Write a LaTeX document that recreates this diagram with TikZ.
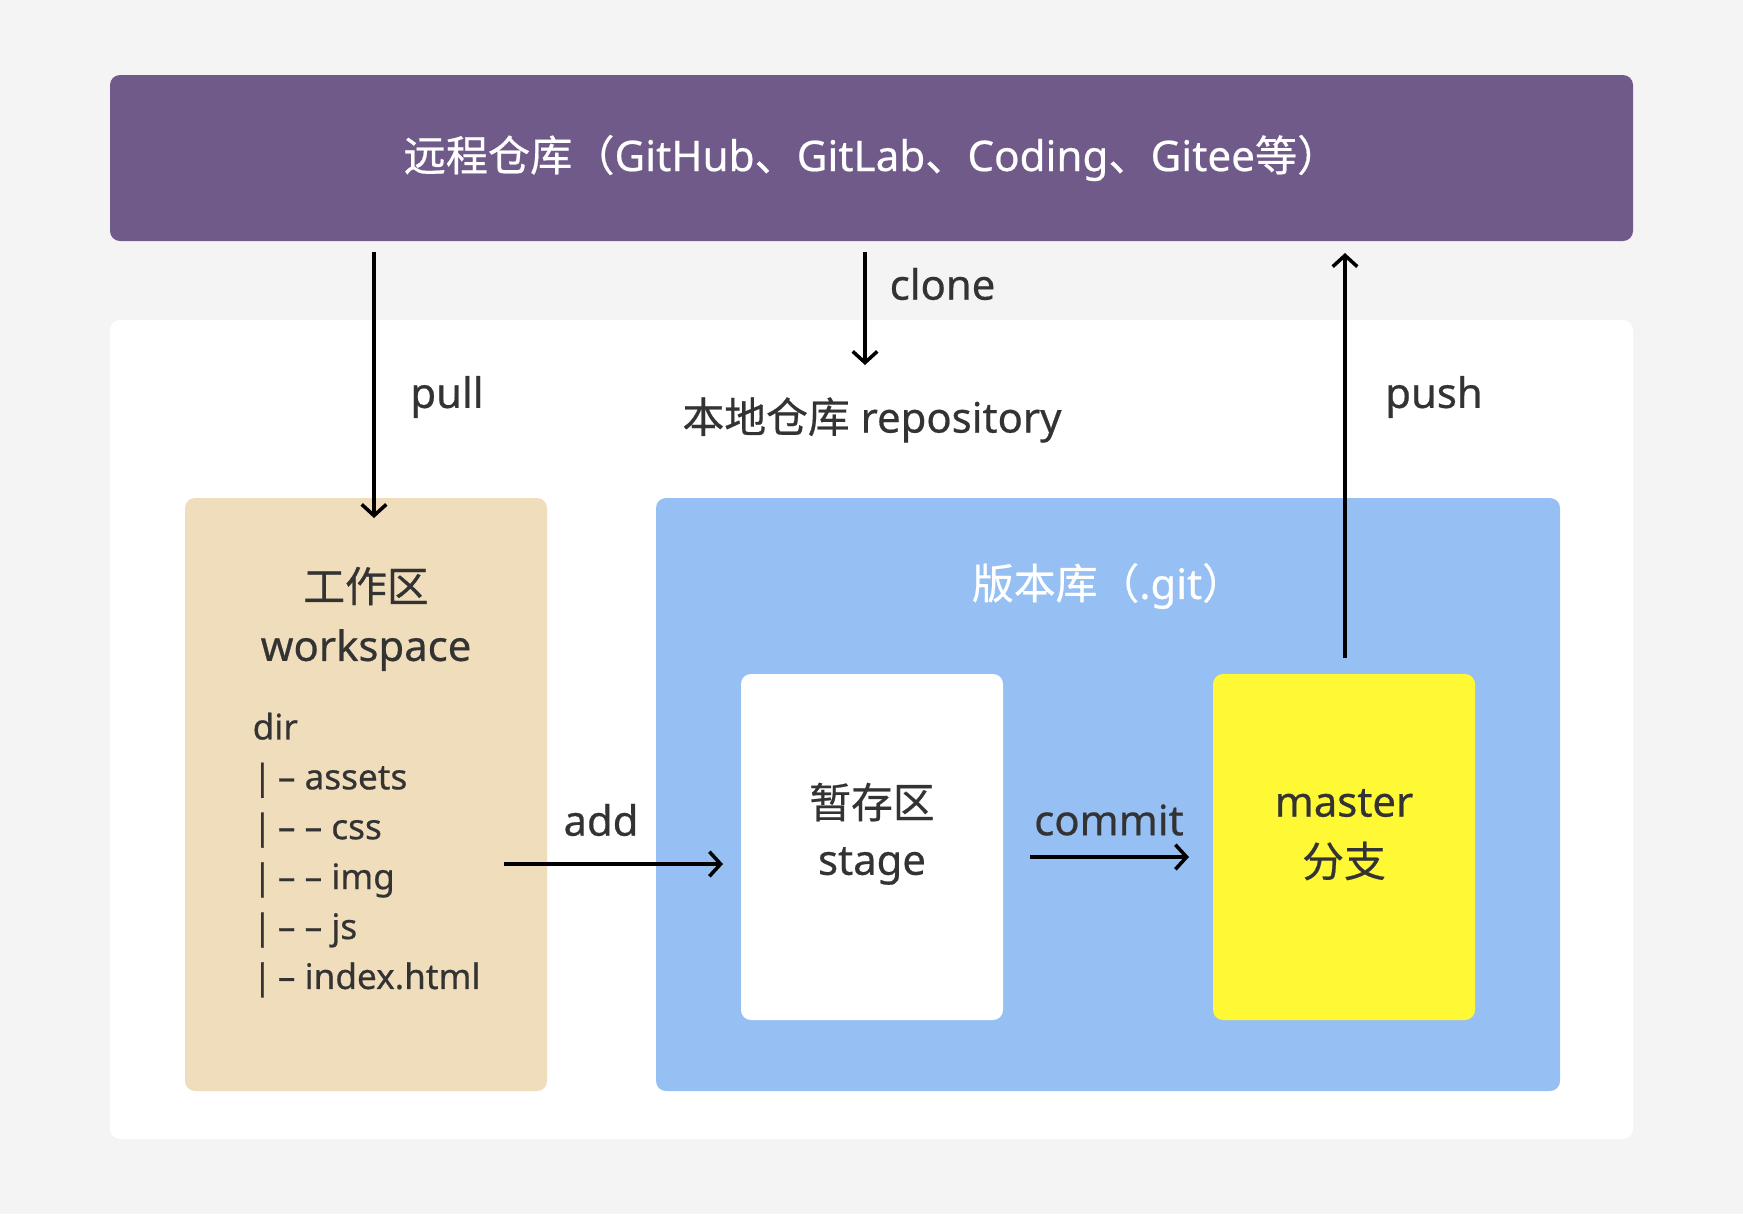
\documentclass[tikz,border=0pt]{standalone}
\usepackage{fontspec}
\setmainfont{Noto Sans}[FakeBold=0.5]
\newfontfamily\cjk{Noto Sans CJK SC}[FakeBold=0.5]
\usepackage{tikz}
\usetikzlibrary{arrows.meta}
\newcommand{\zh}[1]{{\cjk #1}}
\definecolor{bggray}{HTML}{F4F4F4}
\definecolor{remotepurple}{HTML}{6F5A8A}
\definecolor{worktan}{HTML}{F0DDBB}
\definecolor{gitblue}{HTML}{96C0F3}
\definecolor{masteryellow}{HTML}{FEF835}
\definecolor{txtgray}{HTML}{333333}
\tikzset{
  area/.style={rectangle,rounded corners=0.1cm,inner sep=0pt},
  txt/.style={text=txtgray,inner sep=0pt,font=\fontsize{11.9}{14}\selectfont},
  flow/.style={-{Straight Barb[length=3.2pt,width=7pt]},line width=1pt,black}
}

\begin{document}
\begin{tikzpicture}
\useasboundingbox [fill=bggray] (0,0) rectangle (17.43,-12.14);
% remote and local panels
\node [area,fill=remotepurple,minimum width=15.23cm,minimum height=1.66cm,text=white,font=\fontsize{12}{14}\selectfont] (remote) at (8.715,-1.58)
  {\zh{远程仓库（}GitHub\zh{、}GitLab\zh{、}Coding\zh{、}Gitee\zh{等）}};
\node [area,fill=white,minimum width=15.23cm,minimum height=8.19cm] (local) at (8.715,-7.295){};
\node [txt] (locallbl) at (8.72,-4.20){\zh{本地仓库} repository};
% workspace
\node [area,fill=worktan,minimum width=3.62cm,minimum height=5.93cm] (work) at (3.66,-7.945){};
\node [txt] (worklbl) at (3.66,-5.86){\zh{工作区}};
\node [txt] (worksub) at (3.66,-6.50){workspace};
\node [txt,anchor=north west,align=left,font=\fontsize{10}{14.2}\selectfont] (tree) at (2.52,-7.12)
  {dir\\|\,– assets\\|\,– – css\\|\,– – img\\|\,– – js\\|\,– index.html};
% .git
\node [area,fill=gitblue,minimum width=9.04cm,minimum height=5.93cm] (git) at (11.08,-7.945){};
\node [txt,text=white] (gitlbl) at (11.08,-5.86){\zh{版本库（}.git\zh{）}};
\node [area,fill=white,minimum width=2.62cm,minimum height=3.46cm] (stage) at (8.72,-8.47){};
\node [txt] (stagelbl) at (8.72,-8.02){\zh{暂存区}};
\node [txt] (stagesub) at (8.72,-8.66){stage};
\node [area,fill=masteryellow,minimum width=2.62cm,minimum height=3.46cm] (master) at (13.44,-8.47){};
\node [txt] (masterlbl) at (13.44,-8.03){master};
\node [txt] (mastersub) at (13.44,-8.61){\zh{分支}};
% arrows
\coordinate (pullA) at (3.74,-2.52);
\coordinate (pullB) at (3.74,-5.18);
\coordinate (cloneA) at (8.65,-2.52);
\coordinate (cloneB) at (8.65,-3.65);
\coordinate (pushA) at (13.45,-6.58);
\coordinate (pushB) at (13.45,-2.53);
\coordinate (addA) at (5.04,-8.64);
\coordinate (addB) at (7.23,-8.64);
\coordinate (commitA) at (10.30,-8.57);
\coordinate (commitB) at (11.89,-8.57);
\draw [flow] (pullA) -- (pullB);
\draw [flow] (cloneA) -- (cloneB);
\draw [flow] (pushA) -- (pushB);
\draw [flow] (addA) -- (addB);
\draw [flow] (commitA) -- (commitB);
\node [txt] (pulllbl) at (4.47,-3.97){pull};
\node [txt,anchor=west] (clonelbl) at (8.89,-2.84){clone};
\node [txt] (pushlbl) at (14.34,-3.97){push};
\node [txt] (addlbl) at (6.01,-8.20){add};
\node [txt] (commitlbl) at (11.09,-8.20){commit};
\end{tikzpicture}
\end{document}
